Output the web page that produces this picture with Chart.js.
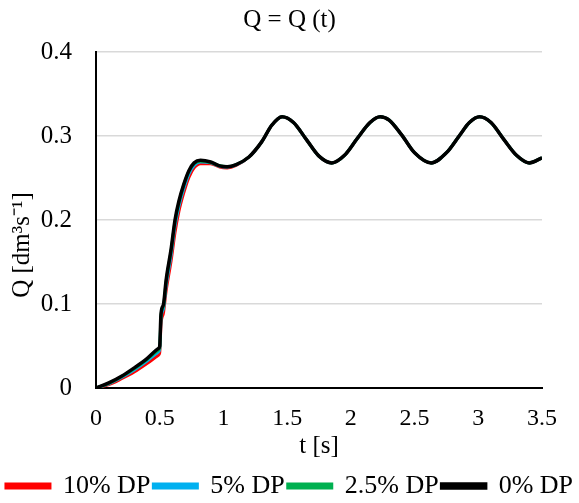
<!DOCTYPE html>
<html>
<head>
<meta charset="utf-8">
<script src="https://cdn.jsdelivr.net/npm/chart.js@4"></script>
<style>
  body { margin: 0; background: #fff; }
  #wrap { width: 579px; height: 503px; position: relative; }
</style>
</head>
<body>
<div id="wrap"><canvas id="qChart"></canvas></div>
<script>
// time axis [s]
const timeValues = [0, 0.1, 0.2, 0.3, 0.4, 0.49, 0.5, 0.51, 0.53, 0.55, 0.59, 0.62, 0.65, 0.69, 0.73, 0.77, 0.82, 0.9, 0.97, 1.03, 1.1, 1.2, 1.3, 1.38, 1.46, 1.55, 1.65, 1.75, 1.85, 1.95, 2.05, 2.15, 2.23, 2.3, 2.4, 2.5, 2.63, 2.75, 2.85, 2.93, 3.01, 3.1, 3.2, 3.3, 3.4, 3.5];

// flow rate Q [dm3/s] per series
const q10 = [0, 0.004, 0.011, 0.019, 0.029, 0.039, 0.042, 0.075, 0.09, 0.115, 0.152, 0.185, 0.21, 0.233, 0.251, 0.262, 0.267, 0.267, 0.263, 0.262, 0.265, 0.275, 0.293, 0.313, 0.323, 0.316, 0.296, 0.276, 0.268, 0.277, 0.297, 0.316, 0.323, 0.319, 0.301, 0.28, 0.268, 0.28, 0.3, 0.316, 0.323, 0.316, 0.296, 0.277, 0.268, 0.274];
const q5 = [0, 0.005, 0.0125, 0.0215, 0.032, 0.043, 0.046, 0.082, 0.095, 0.121, 0.159, 0.193, 0.216, 0.238, 0.255, 0.265, 0.269, 0.268, 0.264, 0.263, 0.2655, 0.275, 0.293, 0.313, 0.323, 0.316, 0.296, 0.276, 0.268, 0.277, 0.297, 0.316, 0.323, 0.319, 0.301, 0.28, 0.268, 0.28, 0.3, 0.316, 0.323, 0.316, 0.296, 0.277, 0.268, 0.274];
const q25 = [0, 0.0055, 0.0135, 0.023, 0.034, 0.045, 0.048, 0.086, 0.098, 0.126, 0.164, 0.198, 0.22, 0.242, 0.258, 0.267, 0.27, 0.2685, 0.2645, 0.2635, 0.266, 0.275, 0.293, 0.313, 0.323, 0.316, 0.296, 0.276, 0.268, 0.277, 0.297, 0.316, 0.323, 0.319, 0.301, 0.28, 0.268, 0.28, 0.3, 0.316, 0.323, 0.316, 0.296, 0.277, 0.268, 0.274];
const q0 = [0, 0.006, 0.014, 0.024, 0.035, 0.047, 0.05, 0.088, 0.1, 0.128, 0.166, 0.2, 0.222, 0.243, 0.259, 0.268, 0.271, 0.269, 0.2645, 0.2635, 0.266, 0.275, 0.293, 0.313, 0.323, 0.316, 0.296, 0.276, 0.268, 0.277, 0.297, 0.316, 0.323, 0.319, 0.301, 0.28, 0.268, 0.28, 0.3, 0.316, 0.323, 0.316, 0.296, 0.277, 0.268, 0.274];

const seriesLabels = ['10% DP', '5% DP', '2.5% DP', '0% DP'];
const seriesColors = ['#ff0000', '#00b0f0', '#00b050', '#000000'];
const seriesData = [q10, q5, q25, q0];

const serif = '"Liberation Serif", "Times New Roman", serif';

function toPoints(values) {
    return timeValues.map((t, i) => ({ x: t, y: values[i] }));
}

function shortNum(value) {
    return Number(value.toFixed(2)).toString();
}

const datasets = seriesData.map((values, i) => ({
    label: seriesLabels[i],
    data: toPoints(values),
    borderColor: seriesColors[i],
    backgroundColor: seriesColors[i],
    borderWidth: i === 3 ? 3.5 : 3,
    pointRadius: 0,
    cubicInterpolationMode: 'monotone',
    order: 3 - i   // black on top
}));

new Chart(document.getElementById('qChart'), {
    type: 'line',
    data: { datasets: datasets },
    options: {
        responsive: true,
        maintainAspectRatio: false,
        animation: false,
        layout: { padding: { top: 5, right: 0, left: 0, bottom: -6 } },
        plugins: {
            title: {
                display: true,
                text: 'Q = Q (t)',
                color: '#000',
                font: { family: serif, size: 25, weight: 'normal' },
                padding: { top: 0, bottom: 17 }
            },
            legend: {
                position: 'bottom',
                labels: {
                    color: '#000',
                    font: { family: serif, size: 26 },
                    boxWidth: 44,
                    boxHeight: 4,
                    padding: 3,
                    sort: (a, b) => a.datasetIndex - b.datasetIndex
                }
            },
            tooltip: { enabled: false }
        },
        scales: {
            x: {
                type: 'linear',
                min: 0,
                max: 3.5,
                afterFit: (scale) => { scale.height = 82; },
                ticks: {
                    stepSize: 0.5,
                    color: '#000',
                    font: { family: serif, size: 24, lineHeight: 1 },
                    padding: 19,
                    maxRotation: 0,
                    callback: shortNum
                },
                grid: { display: false, drawTicks: false },
                border: { display: true, color: '#000', width: 2 },
                title: {
                    display: true,
                    text: 't [s]',
                    color: '#000',
                    font: { family: serif, size: 25 },
                    padding: { top: 0, bottom: 9 }
                }
            },
            y: {
                min: 0,
                max: 0.4,
                afterFit: (scale) => { scale.width = 96; },
                ticks: {
                    stepSize: 0.1,
                    color: '#000',
                    font: { family: serif, size: 25 },
                    padding: 24,
                    callback: shortNum
                },
                grid: { color: '#d9d9d9', lineWidth: 1.5, drawTicks: false },
                border: { display: true, color: '#000', width: 2 },
                title: {
                    display: true,
                    text: 'Q [dm³s⁻¹]        ',
                    color: '#000',
                    font: { family: serif, size: 25 },
                    padding: { top: 7, bottom: 0 }
                }
            },
            // empty right-hand axis, only reserves the margin right of the plot
            yRight: {
                position: 'right',
                display: true,
                afterFit: (scale) => { scale.width = 37; },
                ticks: { display: false },
                grid: { display: false, drawTicks: false },
                border: { display: false }
            }
        }
    }
});
</script>
</body>
</html>
